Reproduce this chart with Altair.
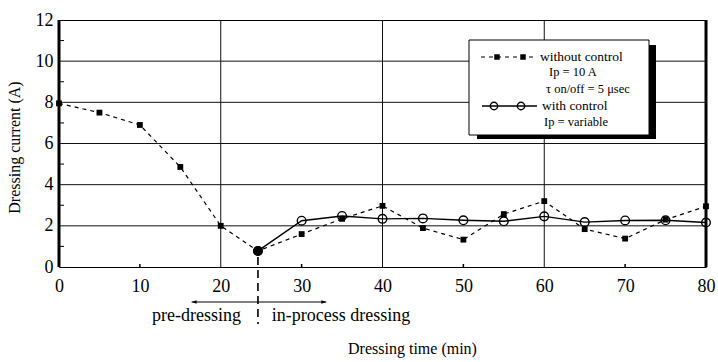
import altair as alt
import pandas as pd

# ---- data ----
without_time = [0, 5, 10, 15, 20, 24.6, 30, 35, 40, 45, 50, 55, 60, 65, 70, 75, 80]
without_current = [7.95, 7.5, 6.9, 4.86, 2.0, 0.78, 1.6, 2.34, 2.97, 1.89, 1.33, 2.57, 3.2, 1.84, 1.38, 2.3, 2.95]
with_time = [24.6, 30, 35, 40, 45, 50, 55, 60, 65, 70, 75, 80]
with_current = [0.78, 2.25, 2.48, 2.34, 2.36, 2.27, 2.22, 2.46, 2.18, 2.26, 2.27, 2.16]

x_tick_values = [0, 10, 20, 30, 40, 50, 60, 70, 80]
y_tick_values = [0, 2, 4, 6, 8, 10, 12]
x_grid_values = [20, 40, 60]
y_grid_values = [2, 4, 6, 8, 10]
x_minor_values = [10, 30, 50, 70]
y_minor_values = [1, 3, 5, 7, 9, 11]
switch_time = 24.6
arrow_span = [16.4, 33.05]

legend_lines = ["without control", "Ip = 10 A", "\u03c4 on/off = 5 \u03bcsec", "with control", "Ip = variable"]
annot_left = "pre-dressing"
annot_right = "in-process dressing"
x_title = "Dressing time (min)"
y_title = "Dressing current (A)"

FONT = "Liberation Serif"
W, H = 647, 247

df_without = pd.DataFrame({"t": without_time, "i": without_current})
df_with = pd.DataFrame({"t": with_time, "i": with_current})
df_start = df_with.iloc[[0]]
one = pd.DataFrame({"a": [0]})

xs = alt.Scale(domain=[0, 80], nice=False, zero=False)
ys = alt.Scale(domain=[0, 12], nice=False)

X = alt.X("t:Q", scale=xs, axis=alt.Axis(
    values=x_tick_values, ticks=False, domain=False, grid=False, labelFlush=False,
    labelFont=FONT, labelFontSize=18, labelColor="black", labelPadding=10,
    title=x_title, titleFont=FONT, titleFontSize=16, titleFontWeight="normal",
    titleColor="black", titleX=353, titleY=81, titleAlign="center", titleBaseline="middle"))
Y = alt.Y("i:Q", scale=ys, axis=alt.Axis(
    values=y_tick_values, ticks=False, domain=False, grid=False, labelFlush=False,
    labelFont=FONT, labelFontSize=18, labelColor="black", labelPadding=6,
    title=y_title, titleFont=FONT, titleFontSize=16, titleFontWeight="normal",
    titleColor="black", titleX=-45, titleY=127, titleAlign="center", titleBaseline="middle"))

# gridlines
vgrid = alt.Chart(pd.DataFrame({"t": x_grid_values})).mark_rule(color="#111", strokeWidth=1).encode(
    x=alt.X("t:Q", scale=xs))
hgrid = alt.Chart(pd.DataFrame({"i": y_grid_values})).mark_rule(color="#111", strokeWidth=1).encode(
    y=alt.Y("i:Q", scale=ys))
edges = alt.Chart(pd.DataFrame({"t": [0, 80]})).mark_rule(color="black", strokeWidth=3).encode(
    x=alt.X("t:Q", scale=xs))
yminor = alt.Chart(pd.DataFrame({"i": y_minor_values})).mark_rule(color="black", strokeWidth=1).encode(
    y=alt.Y("i:Q", scale=ys), x=alt.value(0), x2=alt.value(5))
xminor = alt.Chart(pd.DataFrame({"t": x_minor_values})).mark_rule(color="black", strokeWidth=1.5).encode(
    x=alt.X("t:Q", scale=xs), y=alt.value(H - 3), y2=alt.value(H))

# series
base_without = alt.Chart(df_without)
line_without = base_without.mark_line(color="black", strokeWidth=1.2, strokeDash=[4, 4]).encode(x=X, y=Y)
pts_without = base_without.mark_square(color="black", size=34, opacity=1).encode(x=X, y=Y)

base_with = alt.Chart(df_with)
line_with = base_with.mark_line(color="black", strokeWidth=1.4).encode(x=X, y=Y)
pts_with = base_with.mark_point(color="black", shape="circle", filled=False, size=75, strokeWidth=1.4, opacity=1).encode(x=X, y=Y)
start_pt = alt.Chart(df_start).mark_circle(color="black", size=95, opacity=1).encode(x=X, y=Y)

# annotations below axis
switch_rule = alt.Chart(pd.DataFrame({"t": [switch_time]})).mark_rule(
    color="black", strokeWidth=1.6, strokeDash=[8, 5]).encode(
    x=alt.X("t:Q", scale=xs), y=alt.value(237), y2=alt.value(304))
arrow_line = alt.Chart(pd.DataFrame({"t": [arrow_span[0]], "t2": [arrow_span[1]]})).mark_rule(
    color="black", strokeWidth=1.2).encode(
    x=alt.X("t:Q", scale=xs), x2="t2:Q", y=alt.value(282))
arrow_left = alt.Chart(pd.DataFrame({"t": [arrow_span[0]]})).mark_point(
    shape="M0,0L1,-0.35L1,0.35Z", filled=True, color="black", size=100, opacity=1).encode(
    x=alt.X("t:Q", scale=xs), y=alt.value(282))
arrow_right = alt.Chart(pd.DataFrame({"t": [arrow_span[1]]})).mark_point(
    shape="M0,0L-1,-0.35L-1,0.35Z", filled=True, color="black", size=100, opacity=1).encode(
    x=alt.X("t:Q", scale=xs), y=alt.value(282))
txt_left = alt.Chart(pd.DataFrame({"t": [17.0]})).mark_text(
    text=annot_left, font=FONT, fontSize=18, color="black", align="center", baseline="middle").encode(
    x=alt.X("t:Q", scale=xs), y=alt.value(296))
txt_right = alt.Chart(pd.DataFrame({"t": [26.3]})).mark_text(
    text=annot_right, font=FONT, fontSize=18, color="black", align="left", baseline="middle").encode(
    x=alt.X("t:Q", scale=xs), y=alt.value(296))

# legend box
def lrect(x0, y0, x1, y1, **kw):
    return alt.Chart(one).mark_rect(**kw).encode(
        x=alt.value(x0), x2=alt.value(x1), y=alt.value(y0), y2=alt.value(y1))

shadow = lrect(418, 25, 597, 119, color="black")
box = lrect(410, 20, 590, 115, fill="white", stroke="black", strokeWidth=1)
leg_dash = alt.Chart(one).mark_rule(color="black", strokeWidth=1.2, strokeDash=[4, 4]).encode(
    x=alt.value(422), x2=alt.value(478), y=alt.value(37))
leg_sq = alt.layer(*[alt.Chart(one).mark_square(color="black", size=30, opacity=1).encode(
    x=alt.value(px), y=alt.value(37)) for px in (438, 464)])
leg_solid = alt.Chart(one).mark_rule(color="black", strokeWidth=1.4).encode(
    x=alt.value(423), x2=alt.value(478), y=alt.value(86))
leg_circ = alt.layer(*[alt.Chart(one).mark_point(shape="circle", filled=False, color="black", size=55,
    strokeWidth=1.4, opacity=1).encode(x=alt.value(px), y=alt.value(86)) for px in (435, 462)])

leg_pos = [(481, 37, 13.5), (490, 52, 12.5), (487, 69, 12.5), (483, 86, 13.5), (485, 102, 12.5)]
leg_txt = alt.layer(*[alt.Chart(one).mark_text(text=t, font=FONT, fontSize=fs, color="black",
    align="left", baseline="middle").encode(x=alt.value(px), y=alt.value(py))
    for t, (px, py, fs) in zip(legend_lines, leg_pos)])

chart = alt.layer(
    vgrid, hgrid, yminor, xminor,
    line_without, line_with, pts_without, pts_with, start_pt, edges,
    switch_rule, arrow_line, arrow_left, arrow_right, txt_left, txt_right,
    shadow, box, leg_dash, leg_sq, leg_solid, leg_circ, leg_txt,
).properties(
    width=W, height=H,
    autosize=alt.AutoSizeParams(type="none"),
    padding={"left": 59, "top": 20, "right": 12, "bottom": 95},
    background="white",
).configure_view(stroke="black", strokeWidth=1)

chart.save("out.html", embed_options={"renderer": "svg", "actions": False})
